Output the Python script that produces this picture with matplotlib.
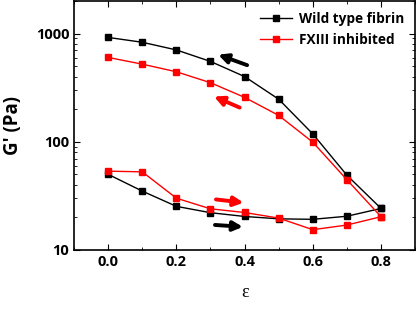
# G' vs strain, loading and unloading branches
import matplotlib.pyplot as plt
from matplotlib.ticker import MultipleLocator, FixedLocator, NullFormatter

strain = [0.0, 0.1, 0.2, 0.3, 0.4, 0.5, 0.6, 0.7, 0.8]

# loading (increasing strain) then unloading (decreasing strain)
wt_up = [50, 35, 25.3, 22.1, 20.4, 19.4, 19.2, 20.5, 24.2]
wt_down = [24.2, 49, 118, 247, 400, 552, 705, 830, 920]
fx_up = [53.5, 52.7, 30.1, 24, 22.2, 19.7, 15.4, 17, 20.3]
fx_down = [20.3, 44.5, 99, 175, 257, 351, 443, 521, 601]

x_all = strain + strain[::-1]

plt.rcParams['font.family'] = ['Open Sans', 'DejaVu Sans']

fig = plt.figure(figsize=(4.16, 3.09), dpi=100)
ax = fig.add_axes([0.178, 0.191, 0.82, 0.806])

ax.plot(x_all, wt_up + wt_down, 'k-s', lw=1, ms=4.5, label='Wild type fibrin')
ax.plot(x_all, fx_up + fx_down, '-s', color='red', lw=1, ms=4.5, label='FXIII inhibited')

ax.set_yscale('log')
ax.set_ylim(10, 2000)
ax.set_xlim(-0.1, 0.9)

# direction arrows
arrow = dict(arrowstyle='-|>', lw=2.8, mutation_scale=14)
ax.annotate('', xy=(0.315, 650), xytext=(0.415, 500), arrowprops=dict(color='k', **arrow))
ax.annotate('', xy=(0.303, 268), xytext=(0.393, 202), arrowprops=dict(color='red', **arrow))
ax.annotate('', xy=(0.405, 27.2), xytext=(0.308, 29.5), arrowprops=dict(color='red', **arrow))
ax.annotate('', xy=(0.403, 16.3), xytext=(0.305, 17.1), arrowprops=dict(color='k', **arrow))

ax.xaxis.set_major_locator(MultipleLocator(0.2))
ax.xaxis.set_minor_locator(MultipleLocator(0.1))
ax.yaxis.set_major_locator(FixedLocator([10, 100, 1000]))
ax.set_yticklabels(['10', '100', '1000'])
ax.yaxis.set_minor_formatter(NullFormatter())
ax.tick_params(which='both', direction='in', top=True, right=True, labelsize=10.5)
ax.tick_params(which='major', length=4)
ax.tick_params(which='minor', length=2.5)
for lab in ax.get_xticklabels() + ax.get_yticklabels():
    lab.set_fontweight('bold')
for s in ax.spines.values():
    s.set_linewidth(1.2)

ax.set_ylabel("G' (Pa)", fontsize=13.5, fontweight='bold', labelpad=9)
ax.set_xlabel('ε', fontsize=13, family='Liberation Serif', labelpad=11)

ax.legend(loc='upper right', frameon=False, handlelength=2.4, handletextpad=0.5,
          numpoints=1, borderaxespad=0.4, prop={'weight': 'bold', 'size': 9.8})

plt.savefig('out.png')
